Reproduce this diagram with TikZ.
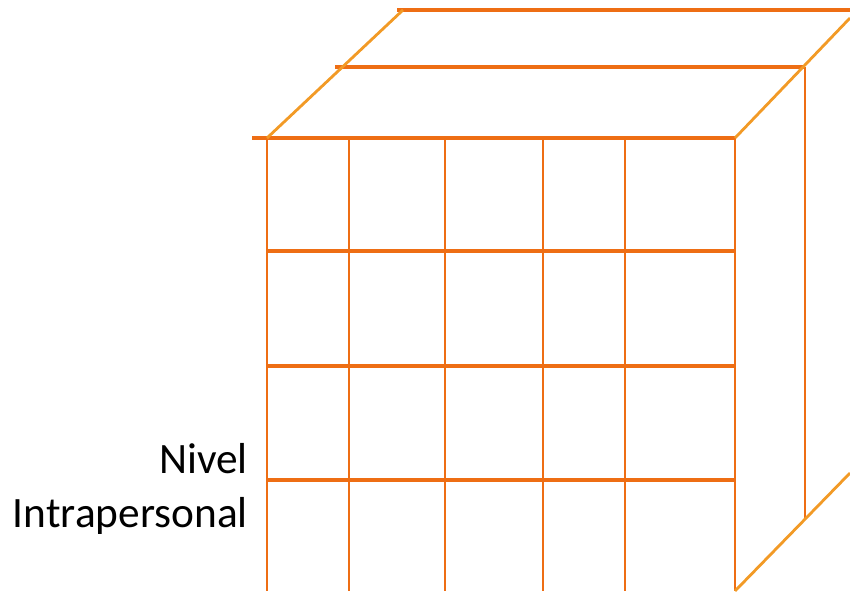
\documentclass[tikz,border=0pt]{standalone}
\usepackage{fontspec}
\setmainfont{Carlito}
\usetikzlibrary{positioning}
\definecolor{cubeorange}{HTML}{EE6E14}
\definecolor{edgeorange}{HTML}{F29A26}

\begin{document}
\begin{tikzpicture}[x=0.03cm, y=-0.03cm,
  gridline/.style={cubeorange, line width=2.2pt},
  rowline/.style={cubeorange, line width=2.9pt},
  edgeline/.style={edgeorange, line width=2.4pt},
  labeltext/.style={anchor=base east, inner sep=0pt, font=\fontsize{37}{46}\selectfont}]
\useasboundingbox (0,0) rectangle (850,591);
% front face
\foreach \x in {267,349,445,543,625,735}
  \draw[gridline] (\x,138) -- (\x,591);
\foreach \y in {251,366,480}
  \draw[rowline] (267,\y) -- (735,\y);
\draw[rowline] (252,138) -- (735,138);
% layers behind
\draw[rowline] (335,67) -- (805,67);
\draw[gridline] (805,67) -- (805,520);
\draw[rowline] (397,10) -- (850,10);
% depth edges
\draw[edgeline] (267,138) -- (403,10);
\draw[edgeline] (735,138) -- (850,18);
\draw[edgeline] (735,591) -- (850,473);
% label
\node[labeltext] (nivel) at (248,473) {Nivel};
\node[labeltext] (intra) at (248,527) {Intrapersonal};
\end{tikzpicture}
\end{document}
